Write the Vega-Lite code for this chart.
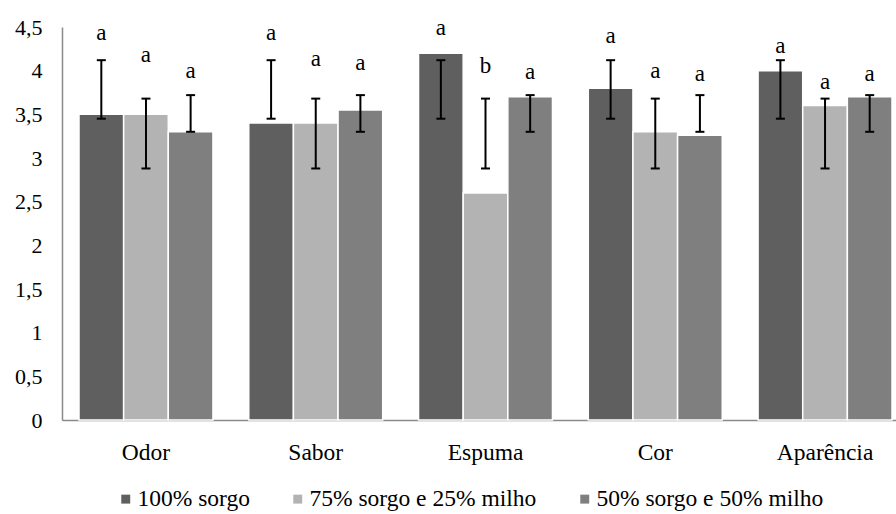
{
  "$schema": "https://vega.github.io/schema/vega-lite/v6.json",
  "width": 834,
  "height": 393,
  "autosize": {"type": "none"},
  "padding": {"left": 62, "top": 27, "right": 0, "bottom": 94},
  "background": "white",
  "config": {
    "view": {"stroke": null},
    "font": "Liberation Serif",
    "axis": {"grid": false, "ticks": false, "domainColor": "#8a8a8a", "domainWidth": 1.5, "labelFont": "Liberation Serif", "labelFontSize": 22, "labelColor": "#000000", "title": null}
  },
  "data": {
    "values": [
      {"atributo": "Odor", "tratamento": "100% sorgo", "media": 3.5, "lo": 3.45, "hi": 4.12, "letra": "a", "letra_y": 4.35},
      {"atributo": "Odor", "tratamento": "75% sorgo e 25% milho", "media": 3.5, "lo": 2.88, "hi": 3.68, "letra": "a", "letra_y": 4.10},
      {"atributo": "Odor", "tratamento": "50% sorgo e 50% milho", "media": 3.3, "lo": 3.30, "hi": 3.72, "letra": "a", "letra_y": 3.92},
      {"atributo": "Sabor", "tratamento": "100% sorgo", "media": 3.4, "lo": 3.45, "hi": 4.12, "letra": "a", "letra_y": 4.35},
      {"atributo": "Sabor", "tratamento": "75% sorgo e 25% milho", "media": 3.4, "lo": 2.88, "hi": 3.68, "letra": "a", "letra_y": 4.05},
      {"atributo": "Sabor", "tratamento": "50% sorgo e 50% milho", "media": 3.55, "lo": 3.30, "hi": 3.72, "letra": "a", "letra_y": 4.01},
      {"atributo": "Espuma", "tratamento": "100% sorgo", "media": 4.2, "lo": 3.45, "hi": 4.12, "letra": "a", "letra_y": 4.41},
      {"atributo": "Espuma", "tratamento": "75% sorgo e 25% milho", "media": 2.6, "lo": 2.88, "hi": 3.68, "letra": "b", "letra_y": 3.97},
      {"atributo": "Espuma", "tratamento": "50% sorgo e 50% milho", "media": 3.7, "lo": 3.30, "hi": 3.72, "letra": "a", "letra_y": 3.91},
      {"atributo": "Cor", "tratamento": "100% sorgo", "media": 3.8, "lo": 3.45, "hi": 4.12, "letra": "a", "letra_y": 4.32},
      {"atributo": "Cor", "tratamento": "75% sorgo e 25% milho", "media": 3.3, "lo": 2.88, "hi": 3.68, "letra": "a", "letra_y": 3.92},
      {"atributo": "Cor", "tratamento": "50% sorgo e 50% milho", "media": 3.26, "lo": 3.30, "hi": 3.72, "letra": "a", "letra_y": 3.88},
      {"atributo": "Aparência", "tratamento": "100% sorgo", "media": 4.0, "lo": 3.45, "hi": 4.12, "letra": "a", "letra_y": 4.2},
      {"atributo": "Aparência", "tratamento": "75% sorgo e 25% milho", "media": 3.6, "lo": 2.88, "hi": 3.68, "letra": "a", "letra_y": 3.79},
      {"atributo": "Aparência", "tratamento": "50% sorgo e 50% milho", "media": 3.7, "lo": 3.30, "hi": 3.72, "letra": "a", "letra_y": 3.88}
    ]
  },
  "encoding": {
    "x": {
      "field": "atributo", "type": "nominal",
      "sort": ["Odor", "Sabor", "Espuma", "Cor", "Aparência"],
      "scale": {"paddingInner": 0.211, "paddingOuter": 0.0618, "align": 0.81},
      "axis": {"labelAngle": 0, "labelPadding": 20, "labelFontSize": 23.5, "orient": "bottom"}
    },
    "xOffset": {
      "field": "tratamento", "type": "nominal",
      "sort": ["100% sorgo", "75% sorgo e 25% milho", "50% sorgo e 50% milho"],
      "scale": {"paddingInner": 0, "paddingOuter": 0}
    }
  },
  "layer": [
    {
      "mark": {"type": "bar", "stroke": "white", "strokeWidth": 1.5},
      "encoding": {
        "y": {
          "field": "media", "type": "quantitative",
          "scale": {"domain": [0, 4.5], "nice": false},
          "axis": {"values": [0, 0.5, 1, 1.5, 2, 2.5, 3, 3.5, 4, 4.5], "labelPadding": 20, "labelExpr": "replace(format(datum.value, '.1~f'), '.', ',')"}
        },
        "color": {
          "field": "tratamento", "type": "nominal",
          "sort": ["100% sorgo", "75% sorgo e 25% milho", "50% sorgo e 50% milho"],
          "scale": {"domain": ["100% sorgo", "75% sorgo e 25% milho", "50% sorgo e 50% milho"], "range": ["#5f5f5f", "#b3b3b3", "#7f7f7f"]},
          "legend": {
            "orient": "none", "direction": "horizontal", "legendX": 52, "legendY": 460,
            "title": null, "symbolType": "square", "symbolSize": 80, "symbolStrokeWidth": 0,
            "labelFont": "Liberation Serif", "labelFontSize": 23.5, "labelColor": "#000000", "labelLimit": 0,
            "labelOffset": 0, "columnPadding": 36
          }
        }
      }
    },
    {
      "mark": {"type": "rule", "color": "black", "strokeWidth": 2},
      "encoding": {"y": {"field": "lo", "type": "quantitative"}, "y2": {"field": "hi"}}
    },
    {
      "mark": {"type": "tick", "color": "black", "thickness": 2, "size": 9, "opacity": 1},
      "encoding": {"y": {"field": "lo", "type": "quantitative"}}
    },
    {
      "mark": {"type": "tick", "color": "black", "thickness": 2, "size": 9, "opacity": 1},
      "encoding": {"y": {"field": "hi", "type": "quantitative"}}
    },
    {
      "mark": {"type": "text", "baseline": "alphabetic", "align": "center", "font": "Liberation Serif", "fontSize": 23, "color": "black"},
      "encoding": {"y": {"field": "letra_y", "type": "quantitative"}, "text": {"field": "letra"}}
    }
  ]
}
